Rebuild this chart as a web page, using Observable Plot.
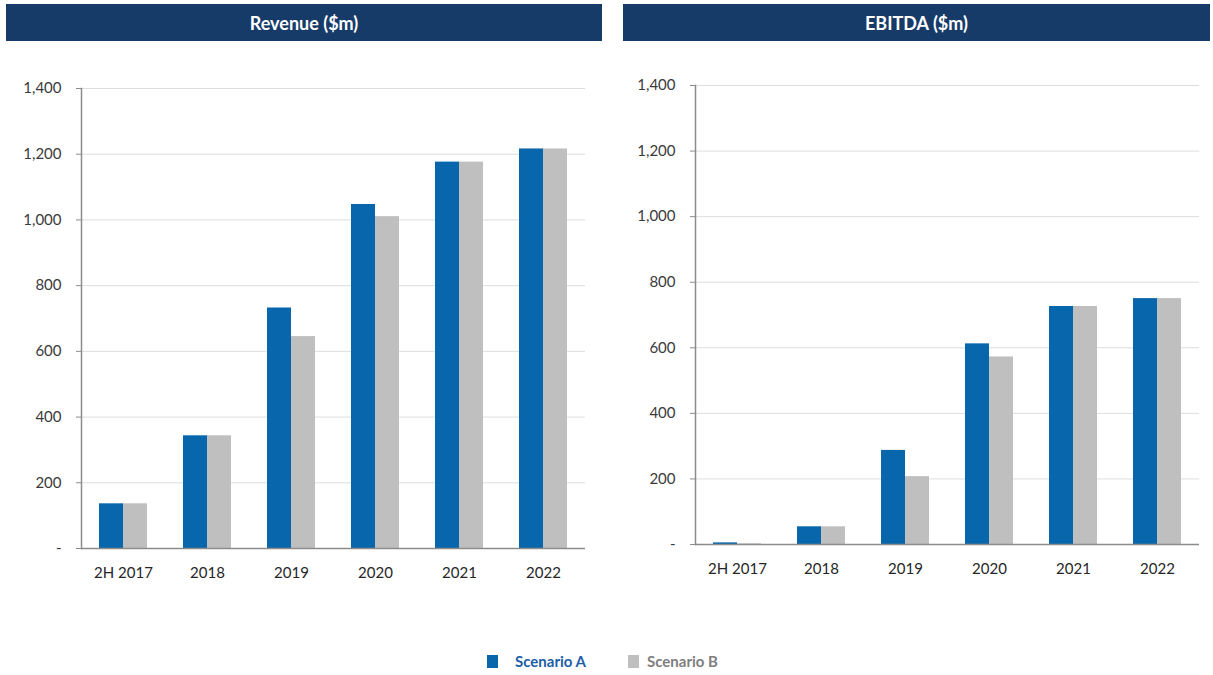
<!DOCTYPE html>
<html>
<head>
<meta charset="utf-8">
<script src="https://cdn.jsdelivr.net/npm/d3@7"></script>
<script src="https://cdn.jsdelivr.net/npm/@observablehq/plot@0.6"></script>
<style>
  html, body { margin: 0; padding: 0; background: #ffffff; }
  body { width: 1213px; height: 675px; position: relative; overflow: hidden; font-family: Lato, "Open Sans", sans-serif; }
  .hdr { position: absolute; top: 4px; height: 37px; background: #173b69; color: #ffffff; font-weight: 700; font-size: 18px; display: flex; align-items: center; justify-content: center; }
  .chart { position: absolute; top: 41px; }
  .legend { position: absolute; top: 652px; left: 0; width: 1213px; height: 18px; font-size: 15px; font-weight: 700; }
  .legend span { position: absolute; top: 0; line-height: 18px; }
  .sw { position: absolute; top: 3px; width: 11px; height: 13px; }
</style>
</head>
<body>
<div class="hdr" style="left:6px;width:596px;">Revenue ($m)</div>
<div class="hdr" style="left:623px;width:587px;">EBITDA ($m)</div>
<div id="left" class="chart" style="left:0px;"></div>
<div id="right" class="chart" style="left:610px;"></div>
<div class="legend">
  <div class="sw" style="left:487px;background:#0866ad;"></div>
  <span style="left:515px;color:#1d5fa6;">Scenario A</span>
  <div class="sw" style="left:628px;background:#bfbfbf;"></div>
  <span style="left:647px;color:#7f7f7f;">Scenario B</span>
</div>
<script>
const years = ["2H 2017", "2018", "2019", "2020", "2021", "2022"];
const scenarios = ["Scenario A", "Scenario B"];
const revenueA = [136, 343, 732, 1047, 1176, 1216];
const revenueB = [136, 343, 645, 1010, 1176, 1216];
const ebitdaA = [5, 54, 287, 612, 726, 750];
const ebitdaB = [2, 54, 207, 572, 726, 750];
const yTicks = [0, 200, 400, 600, 800, 1000, 1200, 1400];
const colors = ["#0866ad", "#bfbfbf"];

function rows(a, b) {
  const out = [];
  years.forEach((y, i) => {
    out.push({year: y, scenario: scenarios[0], value: a[i]});
    out.push({year: y, scenario: scenarios[1], value: b[i]});
  });
  return out;
}

function panel(data, m) {
  return Plot.plot({
    width: m.width,
    height: 560,
    marginLeft: m.left,
    marginRight: m.right,
    marginTop: m.top,
    marginBottom: m.bottom,
    style: {fontFamily: "Lato, 'Open Sans', sans-serif", fontSize: "15px", color: "#3a3a3a", background: "transparent"},
    fx: {domain: years, padding: 0, label: null},
    x: {domain: scenarios, paddingInner: 0, paddingOuter: 0.74, axis: null},
    y: {domain: [0, 1400], label: null},
    color: {domain: scenarios, range: colors},
    marks: [
      Plot.gridY(yTicks.filter(d => d > 0), {stroke: "#dedede", strokeOpacity: 1}),
      Plot.barY(data, {fx: "year", x: "scenario", y: "value", fill: "scenario"}),
      Plot.ruleY([0], {stroke: "#8c8c8c", strokeWidth: 1.5}),
      Plot.frame({anchor: "left", facetAnchor: "left", stroke: "#8c8c8c", strokeWidth: 1.5}),
      Plot.axisY({ticks: yTicks, tickSize: 5, tickPadding: 15, stroke: "#8c8c8c",
        tickFormat: d => d === 0 ? "-" : d3.format(",")(d), label: null, fontSize: 15}),
      Plot.axisFx({anchor: "bottom", tickSize: 0, tickPadding: 19, label: null, fontSize: 15, fill: "#262626"})
    ]
  });
}

document.getElementById("left").append(panel(rows(revenueA, revenueB), {width: 610, left: 80, right: 25, top: 47, bottom: 53}));
document.getElementById("right").append(panel(rows(ebitdaA, ebitdaB), {width: 603, left: 85, right: 14, top: 44, bottom: 57}));
</script>
</body>
</html>
